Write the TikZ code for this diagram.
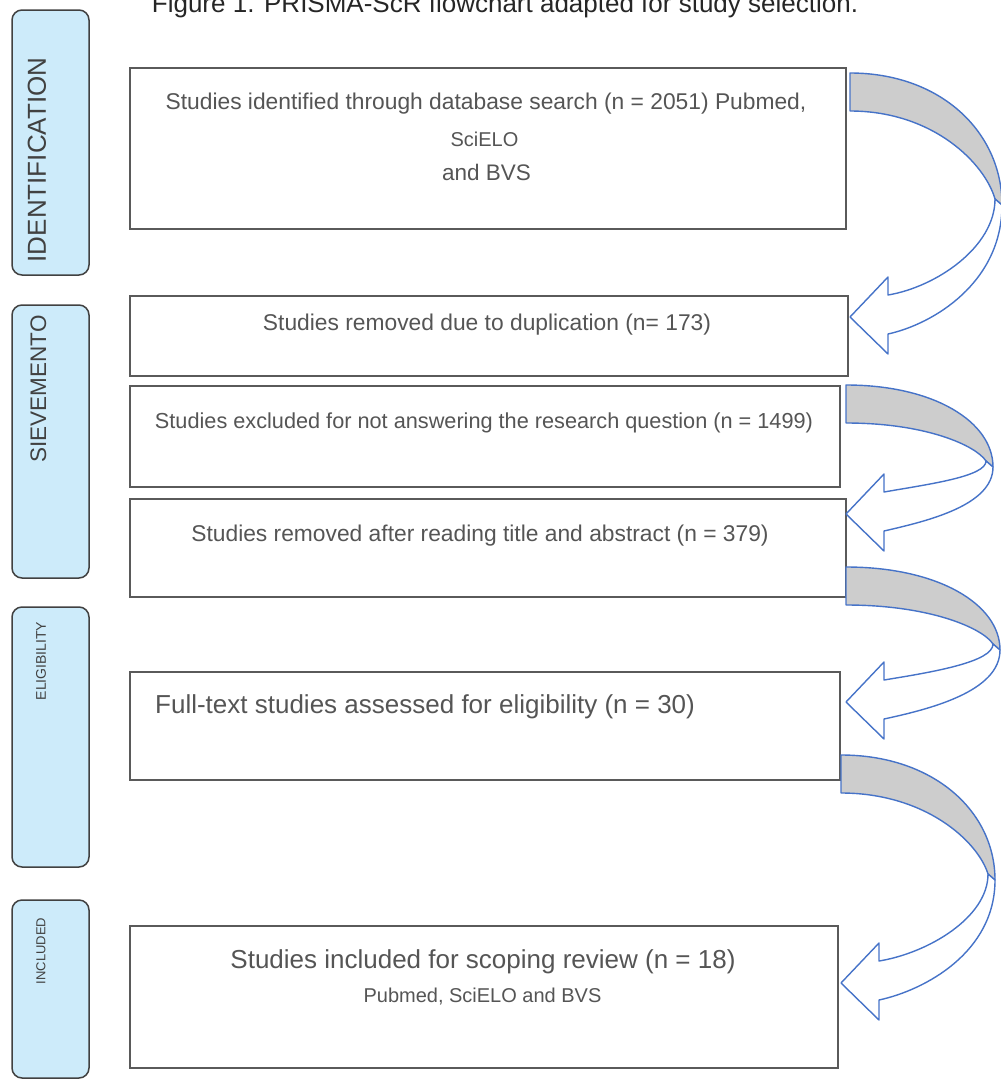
\documentclass[tikz,border=0pt]{standalone}
\usepackage{fontspec}
\setmainfont{Liberation Sans}

\definecolor{boxgray}{RGB}{90,90,90}
\definecolor{textgray}{RGB}{85,85,85}
\definecolor{stageline}{RGB}{65,65,65}
\definecolor{stageblue}{RGB}{205,235,250}
\definecolor{arrowblue}{RGB}{70,115,200}
\definecolor{uturngray}{RGB}{205,205,205}

\tikzset{
    box/.style={draw=boxgray, line width=1.3pt, fill=white, inner sep=0pt},
    stage/.style={draw=stageline, line width=1.5pt, fill=stageblue, rounded corners=10pt, inner sep=0pt, minimum width=77pt},
    txt/.style={text=textgray, inner sep=0pt},
    stagetxt/.style={text=stageline, rotate=90, inner sep=0pt},
    uturn/.style={draw=arrowblue, line width=1.4pt, line join=round},
}
\newcommand{\fs}[1]{\fontsize{#1}{#1}\selectfont}

% tail x, tail top y, right x, pivot y, tip y
\newcommand{\bentarrow}[5]{
    \filldraw[uturn, fill=uturngray] (#1,#2) .. controls ({#1+0.6*(#3-#1)},#2) and (#3,{#2+0.45*(#4-#2)}) .. (#3,#4)
        -- ({#3-7},{#4-6}) .. controls ({#3-17},{#4-6-0.4*(#4-6-#2-38)}) and ({#1+0.55*(#3-#1)},{#2+38}) .. (#1,{#2+38}) -- cycle;
    \filldraw[uturn, fill=white] (#3,#4) .. controls (#3,{#4+0.6*(#5+17-#4)}) and ({#1+38+0.4*(#3-#1-38)},{#5+7}) .. ({#1+38},{#5+17})
        -- ({#1+38},{#5+37}) -- (#1,#5) -- ({#1+38},{#5-40}) -- ({#1+38},{#5-22})
        .. controls ({#1+38+0.45*(#3-#1-45)},{#5-30}) and ({#3-7},{#4-6+0.5*(#5-16-#4)}) .. ({#3-7},{#4-6}) -- cycle;
}

\begin{document}
\begin{tikzpicture}[x=1pt, y=-1pt]
    \useasboundingbox (0,0) rectangle (1001,1079);

    \node[anchor=base, text=black!85, inner sep=0pt, font=\fs{26}] (title) at (505, 12) {Figure 1. PRISMA-ScR flowchart adapted for study selection.};

    % stages
    \node[stage, minimum height=265pt] (identification) at (50.5, 142.5) {};
    \node[stage, minimum height=273pt] (sievemento) at (50.5, 441.5) {};
    \node[stage, minimum height=260pt] (eligibility) at (50.5, 737) {};
    \node[stage, minimum height=178pt] (included) at (50.5, 989) {};
    \node[stagetxt, font=\fs{26}] (identificationtxt) at (37, 160) {IDENTIFICATION};
    \node[stagetxt, font=\fs{22.5}] (sievementotxt) at (38.5, 389) {SIEVEMENTO};
    \node[stagetxt, font=\fs{14}] (eligibilitytxt) at (41, 661) {ELIGIBILITY};
    \node[stagetxt, font=\fs{13}] (includedtxt) at (41, 951) {INCLUDED};

    % boxes
    \node[box, minimum width=716pt, minimum height=161pt] (identified) at (488, 148.5) {};
    \node[box, minimum width=718pt, minimum height=80pt] (duplicates) at (489, 336) {};
    \node[box, minimum width=710pt, minimum height=101pt] (excluded) at (485, 436.5) {};
    \node[box, minimum width=716pt, minimum height=98pt] (screened) at (488, 548) {};
    \node[box, minimum width=710pt, minimum height=108pt] (fulltext) at (485, 726) {};
    \node[box, minimum width=708pt, minimum height=142pt] (final) at (484, 997) {};

    \node[txt, font=\fs{22.8}] (identifiedtxt) at (486, 104) {Studies identified through database search (n = 2051) Pubmed,};
    \node[txt, font=\fs{20}] (identifiedtxtb) at (484.5, 139) {SciELO};
    \node[txt, font=\fs{22.5}] (identifiedtxtc) at (486.5, 172) {and BVS};
    \node[txt, font=\fs{22.8}] (duplicatestxt) at (487, 325) {Studies removed due to duplication (n= 173)};
    \node[txt, font=\fs{21.7}] (excludedtxt) at (484, 423) {Studies excluded for not answering the research question (n = 1499)};
    \node[txt, font=\fs{22.8}] (screenedtxt) at (480, 536) {Studies removed after reading title and abstract (n = 379)};
    \node[txt, font=\fs{26}, anchor=west] (fulltexttxt) at (155, 707) {Full-text studies assessed for eligibility (n = 30)};
    \node[txt, font=\fs{26}] (finaltxt) at (483, 962) {Studies included for scoping review (n = 18)};
    \node[txt, font=\fs{20}] (finaltxtb) at (482.5, 997) {Pubmed, SciELO and BVS};

    % arrows
    \bentarrow{850}{73}{1002}{205}{317}
    \bentarrow{846}{385}{993}{467}{514}
    \bentarrow{846}{567}{1000}{650}{702}
    \bentarrow{841}{755}{995}{880}{983}
\end{tikzpicture}
\end{document}
